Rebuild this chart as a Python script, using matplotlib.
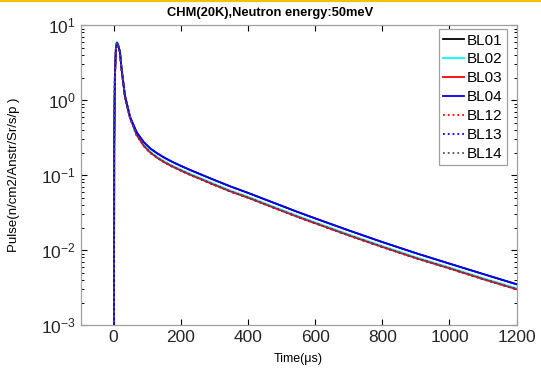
#!/usr/bin/env python3
"""Neutron pulse shapes for CHM (20 K) at 50 meV, per beamline."""

import matplotlib

matplotlib.use("Agg")
import matplotlib.pyplot as plt
from matplotlib.lines import Line2D
from matplotlib.ticker import LogLocator, NullFormatter
import numpy as np

plt.rcParams["font.family"] = ["Liberation Sans", "DejaVu Sans"]
plt.rcParams["mathtext.default"] = "regular"

# time axis [us]
t_us = [0.0, 1.0, 2.0, 4.0, 7.0, 10.0, 13.0, 19.0, 24.0, 34.0, 49.0, 69.0, 90.0,
        110.0, 130.0, 150.0, 175.0, 200.0, 230.0, 260.0, 300.0, 350.0, 400.0,
        450.0, 500.0, 550.0, 600.0, 700.0, 800.0, 900.0, 1000.0, 1100.0, 1200.0]

# upper group (BL01, BL04)
pulse_hi = [1e-6, 1e-5, 0.25, 2.0, 4.8, 5.8, 5.5, 4.4, 2.6, 1.15, 0.6, 0.37, 0.275,
            0.225, 0.195, 0.172, 0.150, 0.133, 0.116, 0.102, 0.086, 0.070, 0.058,
            0.0475, 0.039, 0.032, 0.0265, 0.0183, 0.0128, 0.0091, 0.0066, 0.0048,
            0.0035]

# lower group (BL02, BL03, BL12, BL13, BL14)
pulse_lo = [1e-6, 1e-5, 0.25, 2.0, 4.8, 5.8, 5.5, 4.35, 2.55, 1.1, 0.58, 0.34, 0.245,
            0.198, 0.170, 0.149, 0.130, 0.115, 0.100, 0.088, 0.074, 0.060, 0.050,
            0.0409, 0.0335, 0.0275, 0.0228, 0.0157, 0.0110, 0.0078, 0.0057, 0.0041,
            0.0030]

# BL02 sits a hair above the red lines
pulse_bl02 = [v * 1.03 for v in pulse_lo]

beamlines = ["BL01", "BL02", "BL03", "BL04", "BL12", "BL13", "BL14"]
colors = ["black", "cyan", "red", "blue", "red", "blue", "#555555"]
styles = ["-", "-", "-", "-", ":", ":", ":"]
series = [pulse_hi, pulse_bl02, pulse_lo, pulse_hi, pulse_lo, pulse_lo, pulse_lo]

fig = plt.figure(figsize=(5.41, 3.69), dpi=100)
ax = fig.add_axes([0.149, 0.119, 0.806, 0.813])

t = np.array(t_us)
for name, col, ls, ys in zip(beamlines, colors, styles, series):
    ax.plot(t, ys, color=col, linestyle=ls, linewidth=1.3, label=name)

ax.set_yscale("log")
ax.set_xlim(-98, 1200)
ax.set_ylim(1e-3, 10)
ax.set_xticks([0, 200, 400, 600, 800, 1000, 1200])
ax.yaxis.set_major_locator(LogLocator(base=10, numticks=10))
ax.yaxis.set_minor_locator(LogLocator(base=10, subs=np.arange(2, 10), numticks=20))
ax.yaxis.set_minor_formatter(NullFormatter())

ax.tick_params(which="both", direction="in", top=True, right=True,
               color="black", labelcolor="#262626", labelsize=12.5)
ax.tick_params(which="major", length=4, width=0.8)
ax.tick_params(which="minor", length=2.2, width=0.7)
for s in ax.spines.values():
    s.set_color("#a0a0a0")
    s.set_linewidth(0.9)

ax.set_xlabel("Time(\u03bcs)", fontsize=9)
ax.xaxis.set_label_coords(0.5, -0.093)
ax.set_ylabel("Pulse(n/cm2/Anstr/Sr/s/p )", fontsize=9.5)
ax.yaxis.set_label_coords(-0.14, 0.5)
fig.text(0.5, 1 - 13 / 369, "CHM(20K),Neutron energy:50meV", ha="center",
         va="center", fontsize=9.3, fontweight="bold")

leg = ax.legend(loc="upper right", bbox_to_anchor=(0.978, 0.987), fontsize=11,
                handlelength=1.35, handletextpad=0.2, labelspacing=0.32,
                borderpad=0.3, borderaxespad=0, fancybox=False, framealpha=1)
leg.get_frame().set_edgecolor("#a0a0a0")
leg.get_frame().set_linewidth(0.9)

# yellow strip across the top edge of the image
fig.add_artist(Line2D([0, 1], [0.997, 0.997], transform=fig.transFigure,
                      color="#f2c200", linewidth=1.6))

fig.savefig("out.png", dpi=100)
